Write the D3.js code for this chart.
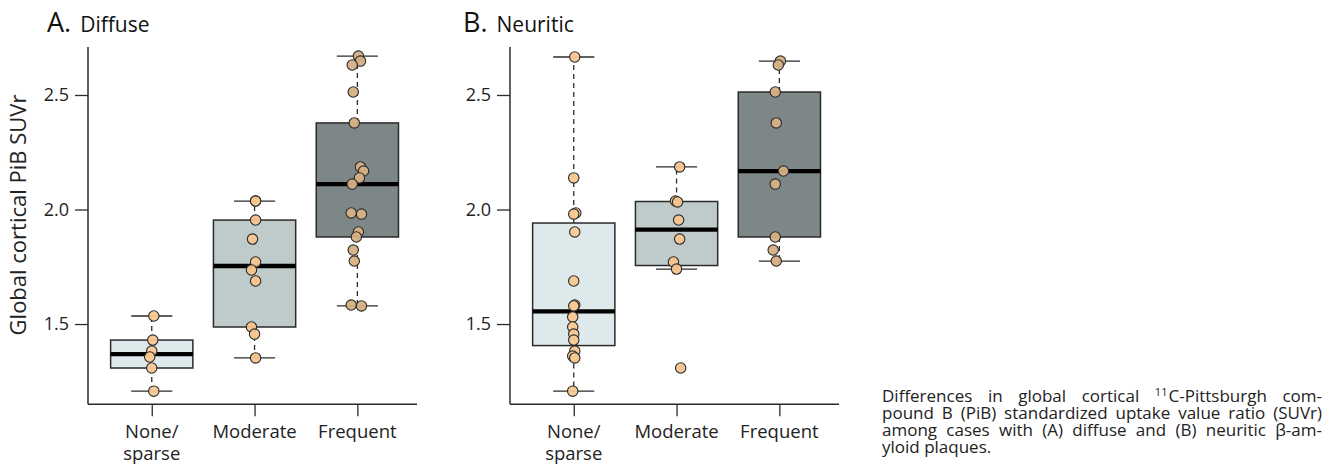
<!DOCTYPE html>
<html>
<head>
<meta charset="utf-8">
<script src="https://cdn.jsdelivr.net/npm/d3@7"></script>
<style>
  html, body { margin: 0; padding: 0; background: #fff; }
  #wrap { position: relative; width: 1336px; height: 470px; overflow: hidden; }
  svg { display: block; font-family: "Open Sans", "Noto Sans", sans-serif; }
  #caption { position: absolute; font-family: "Open Sans", "Noto Sans", sans-serif; color: #222; }
  #caption .ln { text-align: justify; text-align-last: justify; white-space: nowrap; height: 17px; line-height: 17px; overflow: visible; }
  #caption .ln.last { text-align: left; text-align-last: left; }
  #caption .sup { font-size: 0.65em; vertical-align: 0.5em; line-height: 0; margin-right: 1px; }
</style>
</head>
<body>
<div id="wrap">
<svg id="chart" width="1336" height="470"></svg>
</div>
<script>
// ---------------- DATA ----------------
const categories = ["None/sparse", "Moderate", "Frequent"];
const categoryLines = [["None/", "sparse"], ["Moderate"], ["Frequent"]];
const yTicks = [1.5, 2.0, 2.5];

// Panel A: diffuse plaques (SUVr per case) and their horizontal jitter (category units)
const diffuseNone = [1.535, 1.430, 1.382, 1.356, 1.308, 1.207];
const diffuseNoneJitter = [0.02, 0.01, 0.0, -0.02, 0.0, 0.02];
const diffuseModerate = [2.037, 2.037, 1.954, 1.871, 1.771, 1.736, 1.688, 1.487, 1.456, 1.352];
const diffuseModerateJitter = [0.01, 0.01, 0.01, -0.02, 0.01, -0.03, 0.01, -0.03, 0.0, 0.01];
const diffuseFrequent = [2.670, 2.648, 2.631, 2.513, 2.378, 2.186, 2.168, 2.138, 2.111, 1.985, 1.980, 1.902, 1.880, 1.823, 1.775, 1.583, 1.579];
const diffuseFrequentJitter = [0.01, 0.03, -0.05, -0.04, -0.03, 0.03, 0.06, 0.02, -0.05, -0.06, 0.04, 0.01, -0.01, -0.04, -0.03, -0.06, 0.04];

// Panel B: neuritic plaques
const neuriticNone = [2.666, 2.138, 1.985, 1.980, 1.902, 1.688, 1.583, 1.579, 1.531, 1.487, 1.456, 1.430, 1.382, 1.360, 1.352, 1.207];
const neuriticNoneJitter = [0.01, 0.0, 0.02, 0.0, 0.01, 0.0, 0.01, 0.0, -0.01, -0.01, 0.0, 0.0, 0.01, -0.01, 0.01, -0.01];
const neuriticModerate = [2.186, 2.037, 2.033, 1.954, 1.871, 1.771, 1.740, 1.308];
const neuriticModerateJitter = [0.03, -0.01, 0.01, 0.02, 0.03, -0.03, 0.0, 0.04];
const neuriticFrequent = [2.648, 2.631, 2.513, 2.378, 2.168, 2.111, 1.880, 1.823, 1.775];
const neuriticFrequentJitter = [0.01, -0.01, -0.04, -0.03, 0.04, -0.04, -0.04, -0.06, -0.03];

const captionLines = [
  "Differences in global cortical {11}C-Pittsburgh com-",
  "pound B (PiB) standardized uptake value ratio (SUVr)",
  "among cases with (A) diffuse and (B) neuritic β-am-",
  "yloid plaques."
];

// ---------------- STYLE ----------------
const boxFills = ["#dde9ea", "#bfcacb", "#7e8788"];
const pointFills = ["#f8c994", "#f5c48e", "#d6b084"];
const ink = "#2b2b2b";

const svg = d3.select("#chart");

function fivenum(values) {
  const x = values.slice().sort((a, b) => a - b);
  const n = x.length;
  const n4 = Math.floor((n + 3) / 2) / 2;
  const d = [1, n4, (n + 1) / 2, n + 1 - n4, n];
  return d.map(v => 0.5 * (x[Math.floor(v) - 1] + x[Math.ceil(v) - 1]));
}

function drawPanel(cfg) {
  const g = svg.append("g");
  const x = d3.scaleLinear().domain([0.38, 3.58]).range([cfg.x0, cfg.x1]);
  const y = d3.scaleLinear().domain([1.15, 2.71]).range([404.2, 46.9]);
  const unit = x(2) - x(1);

  // y axis
  const yAxis = d3.axisLeft(y).tickValues(yTicks).tickFormat(d3.format(".1f"))
    .tickSize(13).tickPadding(6);
  const ya = g.append("g").attr("transform", `translate(${cfg.x0},0)`).call(yAxis);
  ya.select(".domain").remove();
  ya.selectAll(".tick line").attr("stroke", ink).attr("stroke-width", 1.3);
  ya.selectAll(".tick text").attr("fill", "#222").style("font-size", "18px")
    .style("font-family", '"Open Sans", sans-serif');
  g.append("line").attr("x1", cfg.x0).attr("x2", cfg.x0).attr("y1", y.range()[1]).attr("y2", y.range()[0])
    .attr("stroke", ink).attr("stroke-width", 1.5);

  // x axis
  const xAxis = d3.axisBottom(x).tickValues([1, 2, 3]).tickSize(12).tickFormat("");
  const xa = g.append("g").attr("transform", `translate(0,${y.range()[0]})`).call(xAxis);
  xa.select(".domain").remove();
  xa.selectAll(".tick line").attr("stroke", ink).attr("stroke-width", 1.3);
  g.append("line").attr("x1", cfg.x0).attr("x2", cfg.x1).attr("y1", y.range()[0]).attr("y2", y.range()[0])
    .attr("stroke", ink).attr("stroke-width", 1.5);
  categoryLines.forEach((lines, i) => {
    const t = g.append("text").attr("x", x(i + 1)).attr("y", 438).attr("text-anchor", "middle")
      .attr("fill", "#222").style("font-size", "18.5px");
    lines.forEach((ln, j) => {
      t.append("tspan").attr("x", x(i + 1)).attr("dy", j === 0 ? 0 : 22).text(ln);
    });
  });

  // boxes
  cfg.groups.forEach((vals, i) => {
    const [mn, q1, med, q3, mx] = fivenum(vals);
    const iqr = q3 - q1;
    const lo = d3.min(vals.filter(v => v >= q1 - 1.5 * iqr));
    const hi = d3.max(vals.filter(v => v <= q3 + 1.5 * iqr));
    const cx = x(i + 1);
    const bw = 0.40 * unit, cw = 0.20 * unit;
    [[q3, hi], [q1, lo]].forEach(([a, b]) => {
      g.append("line").attr("x1", cx).attr("x2", cx).attr("y1", y(a)).attr("y2", y(b))
        .attr("stroke", ink).attr("stroke-width", 1.3).attr("stroke-dasharray", "5,4");
      g.append("line").attr("x1", cx - cw).attr("x2", cx + cw).attr("y1", y(b)).attr("y2", y(b))
        .attr("stroke", ink).attr("stroke-width", 1.3);
    });
    g.append("rect").attr("x", cx - bw).attr("width", 2 * bw)
      .attr("y", y(q3)).attr("height", y(q1) - y(q3))
      .attr("fill", boxFills[i]).attr("stroke", ink).attr("stroke-width", 1.5);
    g.append("line").attr("x1", cx - bw).attr("x2", cx + bw).attr("y1", y(med)).attr("y2", y(med))
      .attr("stroke", "#000").attr("stroke-width", 4.3);
  });

  // points
  cfg.groups.forEach((vals, i) => {
    g.selectAll(null).data(vals.map((v, k) => ({ v, j: cfg.jitters[i][k] }))).enter()
      .append("circle")
      .attr("cx", d => x(i + 1 + d.j)).attr("cy", d => y(d.v)).attr("r", 5.2)
      .attr("fill", pointFills[i]).attr("fill-opacity", 0.95)
      .attr("stroke", "#2a2a2a").attr("stroke-width", 1.1);
  });

  // title
  const tt = g.append("text").attr("x", cfg.titleX).attr("y", 32).attr("fill", "#111");
  tt.append("tspan").style("font-size", "27px").text(cfg.letter);
  tt.append("tspan").attr("dx", 9).style("font-size", "21px").text(cfg.word);

  if (cfg.yLabel) {
    g.append("text").attr("transform", "translate(26,215) rotate(-90)").attr("text-anchor", "middle")
      .attr("fill", "#222").style("font-size", "22px").text(cfg.yLabel);
  }
}

drawPanel({
  x0: 88, x1: 417, titleX: 47, letter: "A.", word: "Diffuse",
  yLabel: "Global cortical PiB SUVr",
  groups: [diffuseNone, diffuseModerate, diffuseFrequent],
  jitters: [diffuseNoneJitter, diffuseModerateJitter, diffuseFrequentJitter]
});
drawPanel({
  x0: 510, x1: 839, titleX: 463, letter: "B.", word: "Neuritic",
  yLabel: null,
  groups: [neuriticNone, neuriticModerate, neuriticFrequent],
  jitters: [neuriticNoneJitter, neuriticModerateJitter, neuriticFrequentJitter]
});

// ---------------- CAPTION (justified HTML block) ----------------
const capLeft = 882, capWidth = 440, capBase = 402, capLead = 17;
const wrapSel = d3.select("#wrap");

const probe = wrapSel.append("span").style("position", "absolute").style("white-space", "nowrap")
  .style("font-family", '"Open Sans", sans-serif').style("font-size", "16px").text(captionLines[1]);
const capFs = Math.min(17, 16 * capWidth / probe.node().getBoundingClientRect().width);
probe.remove();

const capAscent = 1.069 * capFs, capContent = 1.362 * capFs;
const capTop = capBase - ((capLead - capContent) / 2 + capAscent);

const cap = wrapSel.append("div").attr("id", "caption")
  .style("left", capLeft + "px").style("top", capTop + "px")
  .style("width", capWidth + "px").style("font-size", capFs + "px");

captionLines.forEach((line, i) => {
  const div = cap.append("div").attr("class", "ln" + (i === captionLines.length - 1 ? " last" : ""));
  const node = div.node();
  line.split(/(\{\d+\})/).forEach(p => {
    const m = p.match(/^\{(\d+)\}$/);
    if (m) div.append("span").attr("class", "sup").text(m[1]);
    else if (p) node.appendChild(document.createTextNode(p));
  });
});
</script>
</body>
</html>
